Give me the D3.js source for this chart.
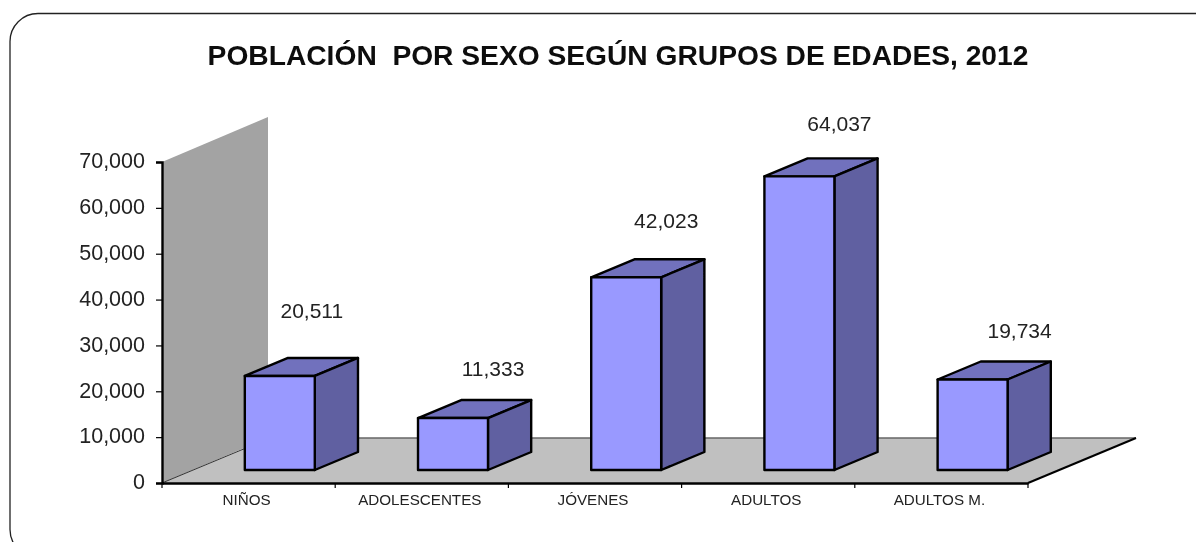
<!DOCTYPE html>
<html><head><meta charset="utf-8">
<script src="https://cdnjs.cloudflare.com/ajax/libs/d3/7.8.5/d3.min.js"></script>
<style>html,body{margin:0;padding:0;background:#fff;overflow:hidden}svg{display:block}text{font-family:"Liberation Sans",Arial,sans-serif}</style>
</head><body><svg id="c" width="1196" height="542"></svg>
<script>
const categories = ["NIÑOS","ADOLESCENTES","JÓVENES","ADULTOS","ADULTOS M."];
const values = [20511,11333,42023,64037,19734];
const yTicks = [0,10000,20000,30000,40000,50000,60000,70000];
const titleText = "POBLACIÓN  POR SEXO SEGÚN GRUPOS DE EDADES, 2012";

const W=1196,H=542;
const svg=d3.select("#c").attr("viewBox",[0,0,W,H]);
const soft=svg.append("defs").append("filter").attr("id","soft")
  .attr("x","-5%").attr("y","-5%").attr("width","110%").attr("height","110%");
soft.append("feGaussianBlur").attr("stdDeviation",0.55);

const x0=162,x1=1028,yB=483,yT=162,dX=108,dY=-45;
const x=d3.scaleBand().domain(categories).range([x0,x1]).paddingInner(0).paddingOuter(0);
const y=d3.scaleLinear().domain([0,70000]).range([yB,yT]);
const dx=d3.scaleLinear().domain([0,1]).range([0,dX]);
const dy=d3.scaleLinear().domain([0,1]).range([0,dY]);
const P=(px,py,d)=>[px+dx(d),py+dy(d)];
const poly=pts=>"M"+pts.map(p=>p.join(",")).join("L")+"Z";

svg.append("rect").attr("x",10).attr("y",13.5).attr("width",1400).attr("height",544)
  .attr("rx",28).attr("fill","#fff").attr("stroke","#222").attr("stroke-width",1.3);

const g=svg.append("g").attr("filter","url(#soft)");

// wall and floor
const wallTopR=[P(x0,y(70000),1)[0]-2,P(x0,y(70000),1)[1]];
const wallBotR=[P(x0,y(0),1)[0]-2,P(x0,y(0),1)[1]];
g.append("path").attr("fill","#a3a3a3").attr("d",poly([P(x0,y(0),0),P(x0,y(70000),0),wallTopR,wallBotR]));
g.append("path").attr("fill","#c0c0c0").attr("d",poly([P(x0,y(0),0),P(x1,y(0),0),P(x1,y(0),1),P(x0,y(0),1)]));
g.append("path").attr("fill","none").attr("stroke","#666").attr("stroke-width",1.5)
  .attr("d",d3.line()([P(x0,y(0),1),P(x1,y(0),1)]));
g.append("path").attr("fill","none").attr("stroke","#333").attr("stroke-width",1)
  .attr("d",d3.line()([P(x0,y(0),0),P(x0,y(0),0.8)]));
g.append("path").attr("fill","none").attr("stroke","#000").attr("stroke-width",2)
  .attr("d",d3.line()([P(x1,y(0),0),P(x1,y(0),1)]));

// axes
const yAxis=g.append("g").attr("transform",`translate(${x0},0)`)
  .call(d3.axisLeft(y).tickValues(yTicks).tickFormat(d3.format(",")).tickSize(6).tickPadding(11));
yAxis.select(".domain").attr("stroke","#000").attr("stroke-width",2.4);
yAxis.selectAll("line").attr("stroke","#000").attr("stroke-width",1.2);
yAxis.selectAll("text").attr("font-size",21.5).attr("fill","#222").attr("dy","0.27em");

const xAxis=g.append("g").attr("transform",`translate(-2,${yB})`)
  .call(d3.axisBottom(x).tickSize(0).tickPadding(11));
xAxis.select(".domain").attr("stroke","#000").attr("stroke-width",2.4).attr("transform","translate(2,0)");
xAxis.selectAll("text").attr("font-size",15.2).attr("fill","#222");
g.append("g").selectAll("line").data(d3.range(categories.length+1)).join("line")
  .attr("x1",i=>x0+i*x.step()).attr("x2",i=>x0+i*x.step())
  .attr("y1",yB).attr("y2",yB+5).attr("stroke","#000").attr("stroke-width",1.2);

// bars
const barFrac=0.404, depthMid=13/45;
const bars=g.append("g").selectAll("g").data(categories.map((c,i)=>({c,v:values[i]}))).join("g");
const attrs=d=>{
  const cx=x(d.c)+x.bandwidth()/2, bw=x.bandwidth()*barFrac;
  return {l:cx-bw/2,r:cx+bw/2};
};
const front=depthMid, back=depthMid+0.4;
const stroke=s=>s.attr("stroke","#000").attr("stroke-width",2.4).attr("stroke-linejoin","round");
bars.append("path").attr("fill","#7171bd").call(stroke).attr("d",d=>{const a=attrs(d),t=y(d.v);
  return poly([P(a.l,t,front),P(a.r,t,front),P(a.r,t,back),P(a.l,t,back)]);});
bars.append("path").attr("fill","#6161a1").call(stroke).attr("d",d=>{const a=attrs(d),t=y(d.v),b=y(0);
  return poly([P(a.r,t,front),P(a.r,b,front),P(a.r,b,back),P(a.r,t,back)]);});
bars.append("path").attr("fill","#9999ff").call(stroke).attr("d",d=>{const a=attrs(d),t=y(d.v),b=y(0);
  return poly([P(a.l,t,front),P(a.r,t,front),P(a.r,b,front),P(a.l,b,front)]);});

// data labels, hand-placed in the original: nudges from the bar's top centre
const nudgeX=[32,40,40,40,47], nudgeY=[-58,-42,-49,-45,-42];
g.append("g").selectAll("text").data(values).join("text")
  .attr("x",(v,i)=>P(x(categories[i])+x.bandwidth()/2,0,depthMid)[0]+nudgeX[i])
  .attr("y",(v,i)=>P(0,y(v),depthMid)[1]+nudgeY[i])
  .attr("text-anchor","middle").attr("font-size",21).attr("fill","#222")
  .text(d3.format(","));

g.append("text").attr("x",618).attr("y",65).attr("text-anchor","middle")
  .attr("font-size",28.2).attr("font-weight","bold").attr("fill","#111")
  .attr("xml:space","preserve").style("white-space","pre").text(titleText);
</script></body></html>
